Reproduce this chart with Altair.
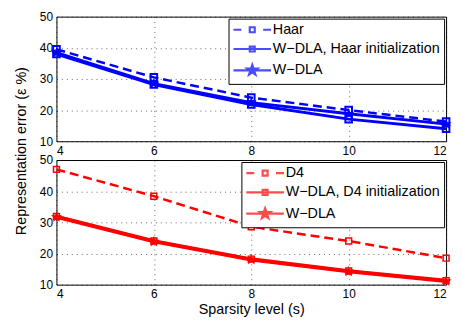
import altair as alt
import pandas as pd

# ---------------- data ----------------
sparsity = [4, 6, 8, 10, 12]
x_ticks = [4, 6, 8, 10, 12]
y_ticks = [10, 20, 30, 40, 50]

haar = [39.5, 30.5, 24.0, 20.0, 16.3]
wdla_haar_init = [38.0, 28.2, 21.8, 17.1, 14.0]
wdla_haar = [38.4, 28.5, 22.4, 18.8, 15.5]

d4 = [47.0, 38.4, 28.6, 24.0, 18.5]
wdla_d4_init = [31.9, 24.0, 18.2, 14.4, 11.3]
wdla_d4 = [31.7, 23.8, 18.0, 14.2, 11.1]

top_series = ["Haar", "W\u2212DLA, Haar initialization", "W\u2212DLA"]
bottom_series = ["D4", "W\u2212DLA, D4 initialization", "W\u2212DLA"]

x_title = "Sparsity level (s)"
y_title = "Representation error (\u03b5 %)"

FONT = "Liberation Sans"
W, H, GAP = 394, 126, 19


def long_table(names, values):
    rows = []
    for name, vals in zip(names, values):
        for s, v in zip(sparsity, vals):
            rows.append({"s": s, "err": v, "series": name})
    return pd.DataFrame(rows)


# star symbol outline (unit box)
star_pts = [(0, -1), (0.235, -0.324), (0.951, -0.309), (0.38, 0.124), (0.588, 0.809),
            (0, 0.4), (-0.588, 0.809), (-0.38, 0.124), (-0.951, -0.309), (-0.235, -0.324)]


def star_path(scale=1.0, dx=0.0):
    pts = [(dx + px * scale, py * scale) for px, py in star_pts]
    return "M" + "L".join(f"{px:.3f},{py:.3f}" for px, py in pts) + "Z"


STAR = star_path()
MC = 2.8  # legend marker centre, in symbol units
SQ = f"M{MC-0.5:.2f},-0.5H{MC+0.5:.2f}V0.5H{MC-0.5:.2f}Z"
LEG_DASH = "M-1,0H0.6M5,0H6.6" + SQ
LEG_SQ = "M-1,0H6.6" + SQ
LEG_STAR = "M-1,0H6.6" + star_path(1.1, MC) + star_path(0.65, MC) + star_path(0.3, MC)

DASHES = [[9, 5], None, None]


def panel(df, names, color, widths, sq_size, sq_sw, show_x_title, show_y_title):
    xa = alt.Axis(values=x_ticks, title=x_title if show_x_title else None, format="d")
    ya_kwargs = dict(values=y_ticks, format="d")
    if show_y_title:
        ya_kwargs.update(title=y_title, titleY=(2 * H + GAP) / 2, titleX=-28)
    else:
        ya_kwargs.update(title=None)
    x = alt.X("s:Q", scale=alt.Scale(domain=[4, 12], nice=False), axis=xa)
    y = alt.Y("err:Q", scale=alt.Scale(domain=[10, 50], nice=False), axis=alt.Axis(**ya_kwargs))

    base = alt.Chart(df)
    layers = []
    for name, dash, wd in zip(names, DASHES, widths):
        kw = dict(color=color, strokeWidth=wd, clip=True)
        if dash:
            kw["strokeDash"] = dash
        layers.append(
            base.transform_filter(alt.FieldEqualPredicate(field="series", equal=name))
            .mark_line(**kw).encode(x=x, y=y)
        )
    squares = base.transform_filter(
        alt.FieldOneOfPredicate(field="series", oneOf=names[:2])
    ).mark_point(shape="square", filled=False, color=color, strokeWidth=sq_sw, size=sq_size, opacity=1).encode(x=x, y=y)
    stars = base.transform_filter(
        alt.FieldEqualPredicate(field="series", equal=names[2])
    ).mark_point(shape=STAR, filled=True, color=color, size=140, opacity=1).encode(x=x, y=y)
    legend_layer = base.transform_filter("false").mark_point(color=color, size=100).encode(
        x=x, y=y,
        shape=alt.Shape(
            "series:N",
            scale=alt.Scale(domain=names, range=[LEG_DASH, LEG_SQ, LEG_STAR]),
            legend=alt.Legend(
                title=None, orient="top-right", offset=2, padding=4,
                strokeColor="black", fillColor="white",
                labelFont=FONT, labelFontSize=14.5, labelColor="black", labelLimit=400,
                symbolSize=100, symbolStrokeWidth=2.2, symbolStrokeColor=color,
                symbolOffset=-1.25, labelOffset=27.5, rowPadding=3.5,
            ),
        ),
    )
    return alt.layer(*layers, squares, stars, legend_layer).properties(width=W, height=H)


top = panel(long_table(top_series, [haar, wdla_haar_init, wdla_haar]), top_series,
            "#0000ff", [2.5, 3, 3], 45, 2, False, True)
bottom = panel(long_table(bottom_series, [d4, wdla_d4_init, wdla_d4]), bottom_series,
               "#ff0000", [2.5, 3.5, 3.5], 36, 1.5, True, False)

chart = alt.vconcat(top, bottom, spacing=GAP, bounds="flush").resolve_scale(
    shape="independent"
).resolve_legend(shape="independent").properties(
    padding={"left": 5, "top": 0, "right": 0, "bottom": 0}
).configure(
    background="white"
).configure_view(
    stroke="black", strokeWidth=1
).configure_axis(
    labelFont=FONT, labelFontSize=12, labelColor="black", labelPadding=4,
    titleFont=FONT, titleFontSize=14.5, titleColor="black", titleFontWeight="normal",
    titlePadding=3, ticks=False, domain=False,
    grid=True, gridColor="black", gridDash=[1, 4], gridOpacity=0.6, gridWidth=1,
)

chart.save("out.html", embed_options={"renderer": "svg", "actions": False})
